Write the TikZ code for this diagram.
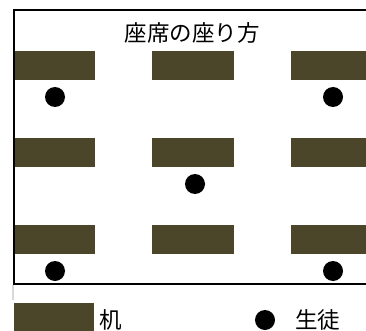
\documentclass[tikz,border=0pt]{standalone}
\usepackage{fontspec}
\newfontfamily\cjk{Noto Sans CJK JP}
\definecolor{desk}{RGB}{75,70,42}
\begin{document}
\begin{tikzpicture}[x=1pt,y=-1pt,
  deskbox/.style={fill=desk,draw=none,minimum width=80pt,minimum height=29pt,inner sep=0pt,outer sep=0pt},
  student/.style={circle,fill=black,draw=none,minimum size=20pt,inner sep=0pt},
  label/.style={font=\cjk\fontsize{22.5}{26}\selectfont,inner sep=0pt,anchor=west}]
\useasboundingbox (0,0) rectangle (366,331);
\begin{scope}
\clip (0,0) rectangle (366,331);
% frame
\coordinate (tr) at (366,10);
\coordinate (tl) at (14,10);
\coordinate (bl) at (14,284);
\coordinate (br) at (366,284);
\draw[line width=2pt] (tr) -- (tl) -- (bl) -- (br);
\coordinate (g1) at (13,285);
\coordinate (g2) at (13,300);
\draw[line width=1.5pt,black!15] (g1) -- (g2);
\node[font=\cjk\fontsize{22.5}{26}\selectfont,inner sep=0pt] (title) at (192,33) {座席の座り方};
% desks
\node[deskbox] (d11) at (55,65.5) {};
\node[deskbox,minimum width=82pt] (d12) at (193,65.5) {};
\node[deskbox,minimum width=76pt] (d13) at (329,65.5) {};
\node[deskbox] (d21) at (55,152.5) {};
\node[deskbox,minimum width=82pt] (d22) at (193,152.5) {};
\node[deskbox,minimum width=76pt] (d23) at (329,152.5) {};
\node[deskbox] (d31) at (55,239.5) {};
\node[deskbox,minimum width=82pt] (d32) at (193,239.5) {};
\node[deskbox,minimum width=76pt] (d33) at (329,239.5) {};
% students
\node[student] (s1) at (55,97) {};
\node[student] (s2) at (333,97) {};
\node[student] (s3) at (195,184) {};
\node[student] (s4) at (55,271) {};
\node[student] (s5) at (333,271) {};
% legend
\node[deskbox,minimum height=30pt] (ld) at (54,318) {};
\node[label] (lt) at (99,320) {机};
\node[student] (ls) at (265,320) {};
\node[label] (lst) at (295,320) {生徒};
\end{scope}
\end{tikzpicture}
\end{document}
